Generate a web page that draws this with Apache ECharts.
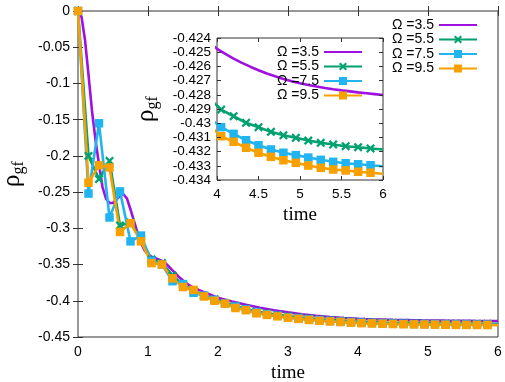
<!DOCTYPE html>
<html><head><meta charset="utf-8">
<script src="https://cdn.jsdelivr.net/npm/echarts@6/dist/echarts.min.js"></script>
<style>html,body{margin:0;padding:0;background:#fff}#c{width:505px;height:382px}</style>
</head><body><div id="c"></div>
<script>
// ---- data ----
const seriesNames = ['Ω =3.5', 'Ω =5.5', 'Ω =7.5', 'Ω =9.5'];

const purpleTime = [0,0.05,0.1,0.15,0.2,0.25,0.3,0.35,0.4,0.45,0.5,0.55,0.6,0.65,0.7,0.75,0.8,0.85,0.9,0.95,
  1.0,1.05,1.1,1.15,1.2,1.25,1.3,1.35,1.4,1.45,1.5,1.55,1.6,1.65,1.7,1.75,1.8,1.85,1.9,1.95,2.0,
  2.2,2.4,2.6,2.8,3.0,3.2,3.4,3.6,3.8,4.0,
  4.1,4.2,4.3,4.4,4.5,4.6,4.7,4.8,4.9,5.0,5.1,5.2,5.3,5.4,5.5,5.6,5.7,5.8,5.9,6.0];
const purpleRho = [0,-0.008,-0.04,-0.088,-0.138,-0.178,-0.212,-0.243,-0.259,-0.265,-0.265,-0.26,-0.255,-0.253,-0.259,-0.274,-0.29,-0.306,-0.32,-0.33,
  -0.336,-0.339,-0.341,-0.343,-0.345,-0.348,-0.353,-0.358,-0.363,-0.368,-0.372,-0.376,-0.379,-0.382,-0.384,-0.386,-0.388,-0.390,-0.392,-0.394,-0.396,
  -0.401,-0.4055,-0.4095,-0.413,-0.416,-0.4185,-0.4207,-0.4225,-0.4238,-0.42476,
  -0.42512,-0.42545,-0.42575,-0.42602,-0.42627,-0.4265,-0.4267,-0.42688,-0.42704,-0.42718,-0.42731,-0.42742,-0.42752,-0.42761,-0.42769,-0.42776,-0.42783,-0.42789,-0.42795,-0.42801];

const markTime = [0,0.15,0.3,0.45,0.6,0.75,0.9,1.05,1.2,1.35,1.5,1.65,1.8,1.95,2.1,2.25,2.4,2.55,2.7,2.85,
  3.0,3.15,3.3,3.45,3.6,3.75,3.9,4.05,4.2,4.35,4.5,4.65,4.8,4.95,5.1,5.25,5.4,5.55,5.7,5.85,6.0];
const greenRho = [0,-0.200,-0.232,-0.207,-0.296,-0.292,-0.315,-0.343,-0.348,-0.365,-0.378,-0.386,-0.393,-0.398,-0.403,-0.407,-0.411,-0.4148,-0.4172,-0.4193,
  -0.4211,-0.4227,-0.4241,-0.4254,-0.4265,-0.4274,-0.4282,
  -0.42904,-0.42951,-0.42997,-0.43028,-0.43061,-0.43085,-0.43103,-0.43122,-0.43138,-0.4315,-0.43162,-0.43169,-0.43178,-0.43185];
const blueRho = [0,-0.252,-0.155,-0.285,-0.249,-0.318,-0.310,-0.345,-0.350,-0.373,-0.377,-0.389,-0.393,-0.399,-0.404,-0.408,-0.412,-0.4163,-0.4187,-0.4207,
  -0.4227,-0.4243,-0.4257,-0.4269,-0.4279,-0.4288,-0.4296,
  -0.43028,-0.43075,-0.4312,-0.43155,-0.43185,-0.43208,-0.43225,-0.43242,-0.43258,-0.43272,-0.43282,-0.43289,-0.43296,-0.43303];
const orangeRho = [0,-0.237,-0.213,-0.216,-0.305,-0.293,-0.318,-0.348,-0.350,-0.369,-0.381,-0.385,-0.394,-0.400,-0.404,-0.410,-0.413,-0.4173,-0.4195,-0.4215,
  -0.4235,-0.425,-0.4265,-0.4276,-0.4285,-0.4293,-0.4301,
  -0.43092,-0.43131,-0.43173,-0.43208,-0.43237,-0.43261,-0.43279,-0.43298,-0.43314,-0.43326,-0.43333,-0.43342,-0.43349,-0.43356];

const mainXRange = [0, 6], mainXStep = 1;
const mainYRange = [-0.45, 0], mainYStep = 0.05;
const insetXRange = [4, 6], insetXStep = 0.5;
const insetYRange = [-0.434, -0.424], insetYStep = 0.001;

// ---- styles ----
const colors = ['#a010e0', '#00a070', '#22b4ee', '#f7a000'];
const crossPath = 'path://M0.18,0 L0.5,0.32 L0.82,0 L1,0.18 L0.68,0.5 L1,0.82 L0.82,1 L0.5,0.68 L0.18,1 L0,0.82 L0.32,0.5 L0,0.18 Z';
const symbols = ['none', crossPath, 'rect', 'rect'];
const SANS = 'Liberation Sans, Arial, sans-serif';
const SERIF = 'Liberation Serif, Times New Roman, serif';

function pairs(t, v) {
  return t.map((x, i) => (x >= 6) ? {value: [x, v[i]], symbolSize: 0} : [x, v[i]]);
}
const dataSets = [
  purpleTime.map((x, i) => [x, purpleRho[i]]),
  pairs(markTime, greenRho),
  pairs(markTime, blueRho),
  pairs(markTime, orangeRho)
];

function makeSeries(inset) {
  return dataSets.map((d, k) => ({
    type: 'line',
    name: seriesNames[k],
    data: d,
    xAxisIndex: inset ? 2 : 0,
    yAxisIndex: inset ? 2 : 0,
    z: inset ? 6 : 2,
    symbol: symbols[k],
    symbolSize: k === 1 ? 9 : 8.5,
    showSymbol: k !== 0,
    showAllSymbol: true,
    itemStyle: {color: colors[k]},
    lineStyle: {color: colors[k], width: 2.6},
    emphasis: {disabled: true},
    clip: true,
    animation: false
  }));
}

const tickStyle = {lineStyle: {color: '#333', width: 1}};
function axisBase(range, step, extra) {
  return Object.assign({
    type: 'value', min: range[0], max: range[1], interval: step,
    axisLine: {show: false},
    splitLine: {show: false},
    axisTick: Object.assign({show: true, inside: true, length: 5}, tickStyle)
  }, extra);
}
const fmt3 = v => String(+v.toFixed(3));
const legendData = seriesNames.map((n, k) => k === 0 ? {name: n, itemStyle: {opacity: 0}} : {name: n});
const rhoRich = {
  a: {fontSize: 25, fontFamily: SERIF, color: '#000', lineHeight: 30},
  b: {fontSize: 16, fontFamily: SERIF, color: '#000', verticalAlign: 'bottom', lineHeight: 30}
};

const option = {
  animation: false,
  backgroundColor: '#fff',
  grid: [
    {left: 78, top: 11, width: 420, height: 326, show: true, borderColor: '#333', borderWidth: 1, backgroundColor: '#fff', containLabel: false, outerBoundsMode: 'none'},
    {left: 217, top: 38, width: 166, height: 142, show: true, borderColor: '#333', borderWidth: 1, backgroundColor: '#fff', z: 5, containLabel: false, outerBoundsMode: 'none'}
  ],
  xAxis: [
    axisBase(mainXRange, mainXStep, {gridIndex: 0, position: 'bottom',
      axisLabel: {color: '#000', fontSize: 14, fontFamily: SANS, margin: 8},
      name: 'time', nameLocation: 'middle', nameGap: 26,
      nameTextStyle: {color: '#000', fontSize: 19, fontFamily: SERIF}}),
    axisBase(mainXRange, mainXStep, {gridIndex: 0, position: 'top', axisLabel: {show: false}}),
    axisBase(insetXRange, insetXStep, {gridIndex: 1, position: 'bottom', z: 7,
      axisTick: Object.assign({show: true, inside: true, length: 4}, tickStyle),
      axisLabel: {color: '#000', fontSize: 13.5, fontFamily: SANS, margin: 7, formatter: fmt3},
      name: 'time', nameLocation: 'middle', nameGap: 26,
      nameTextStyle: {color: '#000', fontSize: 19, fontFamily: SERIF}}),
    axisBase(insetXRange, insetXStep, {gridIndex: 1, position: 'top', z: 7,
      axisTick: Object.assign({show: true, inside: true, length: 4}, tickStyle),
      axisLabel: {show: false}})
  ],
  yAxis: [
    axisBase(mainYRange, mainYStep, {gridIndex: 0, position: 'left',
      axisLabel: {color: '#000', fontSize: 14, fontFamily: SANS, margin: 8, formatter: fmt3},
      name: '{a|ρ}{b|gf}', nameLocation: 'middle', nameGap: 48, nameRotate: 90,
      nameTextStyle: {rich: rhoRich}}),
    axisBase(mainYRange, mainYStep, {gridIndex: 0, position: 'right', axisLabel: {show: false}}),
    axisBase(insetYRange, insetYStep, {gridIndex: 1, position: 'left', z: 7,
      axisTick: Object.assign({show: true, inside: true, length: 4}, tickStyle),
      axisLabel: {color: '#000', fontSize: 13.5, fontFamily: SANS, margin: 6, formatter: fmt3},
      name: '{a|ρ}{b|gf}', nameLocation: 'middle', nameGap: 56, nameRotate: 90,
      nameTextStyle: {rich: rhoRich}}),
    axisBase(insetYRange, insetYStep, {gridIndex: 1, position: 'right', z: 7,
      axisTick: Object.assign({show: true, inside: true, length: 4}, tickStyle),
      axisLabel: {show: false}})
  ],
  legend: [
    {data: legendData, orient: 'vertical', right: 22, top: 13, align: 'right',
      itemWidth: 38, itemHeight: 10, itemGap: 0.5, selectedMode: false,
      textStyle: {color: '#000', fontSize: 14, fontFamily: SANS}},
    {data: legendData, orient: 'vertical', right: 137, top: 40, align: 'right', z: 8,
      itemWidth: 38, itemHeight: 10, itemGap: 0.5, selectedMode: false,
      textStyle: {color: '#000', fontSize: 14, fontFamily: SANS}}
  ],
  series: makeSeries(false).concat(makeSeries(true))
};

const chart = echarts.init(document.getElementById('c'), null, {renderer: 'canvas'});
chart.setOption(option);
</script>
</body></html>
